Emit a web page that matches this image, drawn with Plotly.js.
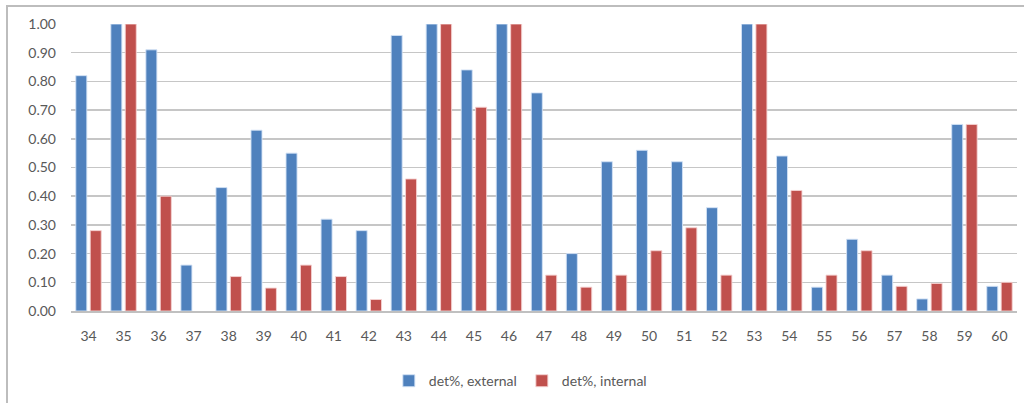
<!DOCTYPE html>
<html>
<head>
<meta charset="utf-8">
<script src="https://cdn.plot.ly/plotly-3.0.1.min.js"></script>
<style>
  html, body { margin: 0; padding: 0; background: #fff; }
  #wrap { position: relative; width: 1024px; height: 403px; overflow: hidden; }
  #chart { position: absolute; left: 0; top: 0; width: 1024px; height: 403px; }
  /* chart frame: top and left edges */
  .frame-top { position: absolute; left: 7px; top: 5px; width: 1017px; height: 2px; background: #bdbdbd; }
  .frame-left { position: absolute; left: 6px; top: 5px; width: 2px; height: 398px; background: #bdbdbd; }
</style>
</head>
<body>
<div id="wrap">
  <div id="chart"></div>
  <div class="frame-top"></div>
  <div class="frame-left"></div>
</div>
<script>
// Sample ids on the category axis
const ids = ['34','35','36','37','38','39','40','41','42','43','44','45','46','47',
             '48','49','50','51','52','53','54','55','56','57','58','59','60'];

// Detection share, external
const detExternal = [0.82, 1.00, 0.91, 0.16, 0.43, 0.63, 0.55, 0.32, 0.28, 0.96, 1.00, 0.84, 1.00, 0.76,
                     0.20, 0.52, 0.56, 0.52, 0.36, 1.00, 0.54, 0.083, 0.25, 0.125, 0.042, 0.65, 0.086];

// Detection share, internal
const detInternal = [0.28, 1.00, 0.40, 0.00, 0.12, 0.08, 0.16, 0.12, 0.04, 0.46, 1.00, 0.71, 1.00, 0.125,
                     0.083, 0.125, 0.21, 0.29, 0.125, 1.00, 0.42, 0.125, 0.21, 0.086, 0.096, 0.65, 0.10];

// Y tick values and labels
const yTicks = [0, 0.1, 0.2, 0.3, 0.4, 0.5, 0.6, 0.7, 0.8, 0.9, 1.0];
const yTickLabels = yTicks.map(v => v.toFixed(2));

const FONT = 'Lato, "Open Sans", "DejaVu Sans", sans-serif';
const TEXT = '#595959';

// no outline on empty bars, so a zero value draws nothing
const outline = vals => vals.map(v => (v > 0 ? 1 : 0));

const traces = [
  {
    type: 'bar', name: 'det%, external', x: ids, y: detExternal,
    marker: { color: '#4F81BD', line: { color: 'rgba(210,225,245,0.9)', width: outline(detExternal) } },
    hoverinfo: 'x+y'
  },
  {
    type: 'bar', name: 'det%, internal', x: ids, y: detInternal,
    marker: { color: '#C0504D', line: { color: 'rgba(245,210,210,0.9)', width: outline(detInternal) } },
    hoverinfo: 'x+y'
  }
];

const layout = {
  width: 1024, height: 403,
  margin: { l: 71, r: 7, t: 24, b: 91 },
  paper_bgcolor: 'rgba(0,0,0,0)',
  plot_bgcolor: '#fff',
  barmode: 'group',
  bargap: 0.177,
  bargroupgap: 0.236,
  font: { family: FONT, size: 14, color: TEXT },
  xaxis: {
    type: 'category',
    tickvals: ids, ticktext: ids,
    showgrid: false,
    showline: true, linecolor: '#c0c0c0', linewidth: 1.5,
    ticks: '', ticklabelstandoff: 12,
    tickfont: { family: FONT, size: 14, color: TEXT },
    fixedrange: true
  },
  yaxis: {
    range: [0, 1.0],
    tickvals: yTicks, ticktext: yTickLabels,
    showgrid: true, gridcolor: '#c6c6c6', gridwidth: 1.5,
    zeroline: false, showline: false,
    ticks: '', ticklabelstandoff: 14,
    tickfont: { family: FONT, size: 14, color: TEXT },
    fixedrange: true
  },
  showlegend: true,
  legend: {
    orientation: 'h',
    x: 0.475, xanchor: 'center',
    y: -0.24, yanchor: 'middle',
    font: { family: FONT, size: 14, color: TEXT },
    bgcolor: 'rgba(0,0,0,0)',
    itemwidth: 30
  }
};

Plotly.newPlot('chart', traces, layout, { displayModeBar: false, staticPlot: true });
</script>
</body>
</html>
